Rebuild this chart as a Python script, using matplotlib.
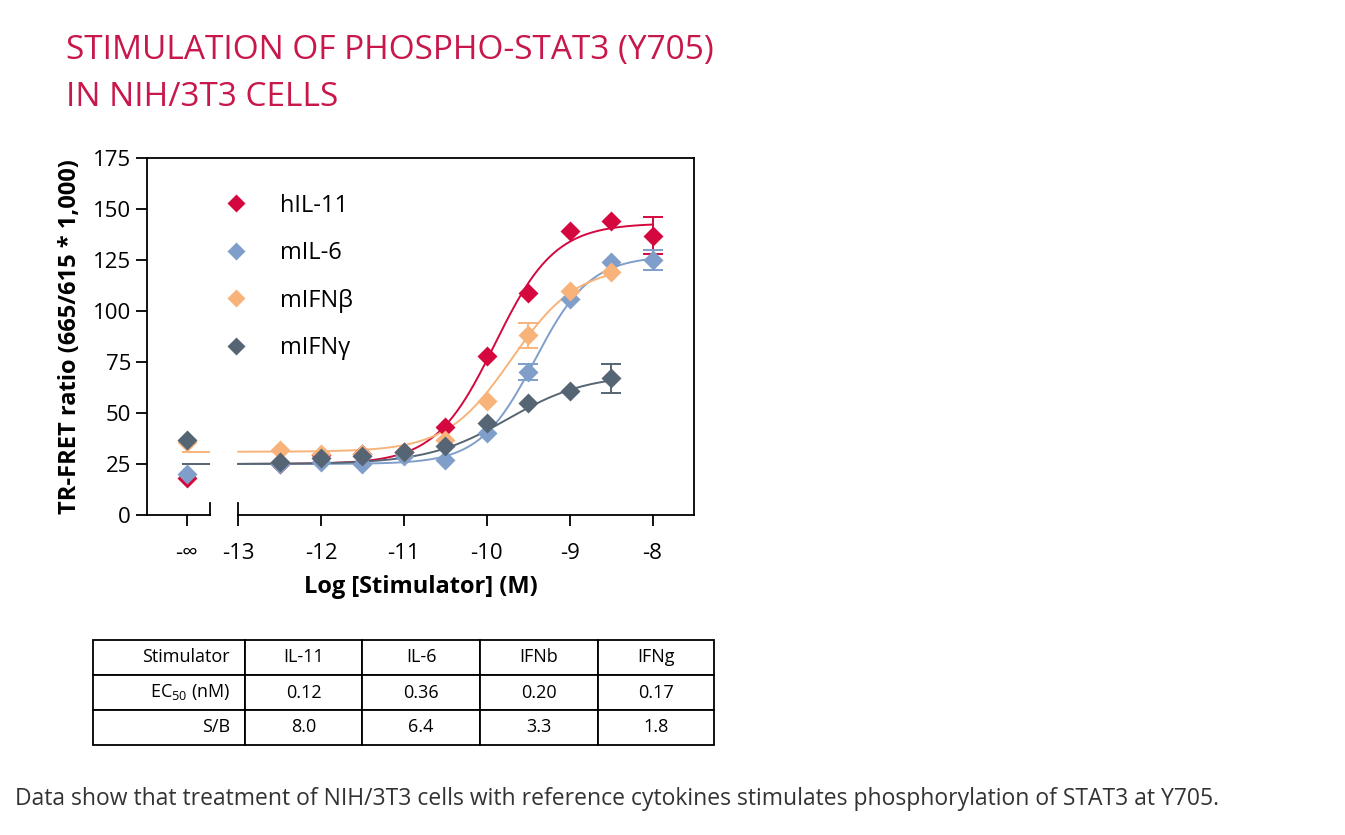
import numpy as np
import matplotlib.pyplot as plt

# measured points: x = log[M], first entry is the -inf (no stimulator) control
x_log = [-12.5, -12, -11.5, -11, -10.5, -10, -9.5, -9, -8.5, -8]
hil11 = [25, 29.5, 30, 31, 43, 78, 109, 139, 144, 137]
mil6 = [25, 26, 25, 29, 27, 40, 70, 106, 124, 125]
mifnb = [32, 30, 30, 31, 37, 56, 88, 110, 119]
mifng = [26, 28, 29, 31, 34, 45, 55, 61, 67]
ctrl = [18, 20, 36, 37]
err = {'hIL-11': {-8: 9}, 'mIL-6': {-9.5: 4, -8: 5}, 'mIFNβ': {-9.5: 6}, 'mIFNγ': {-8.5: 7}}
# 4PL fit params: bottom, top, logEC50, hill
fits = [(25, 143, -9.9, 1.2), (25, 127, -9.42, 1.3), (31, 122, -9.7, 1.1), (25, 69, -9.75, 0.9)]
names = ['hIL-11', 'mIL-6', 'mIFNβ', 'mIFNγ']
colors = ['#d4083f', '#7f9ec9', '#f8b37a', '#566573']

table_rows = [['Stimulator', 'IL-11', 'IL-6', 'IFNb', 'IFNg'],
              ['EC$_{50}$ (nM)', '0.12', '0.36', '0.20', '0.17'],
              ['S/B', '8.0', '6.4', '3.3', '1.8']]

plt.rcParams['font.family'] = ['Open Sans', 'DejaVu Sans']
plt.rcParams['mathtext.fontset'] = 'custom'
plt.rcParams['mathtext.rm'] = 'Open Sans'
fig = plt.figure(figsize=(13.45, 8.35), dpi=100)
ax = fig.add_axes([147/1345, 1-515/835, 547/1345, 357/835])

xneg = -13.62
series = [hil11, mil6, mifnb, mifng]
xx = np.linspace(-13, -8, 300)
for i, (nm, ys, c, (b, t, e, h)) in enumerate(zip(names, series, colors, fits)):
    xs = x_log[:len(ys)]
    xend = xs[-1]
    xf = xx[xx <= xend]
    ax.plot(xf, b + (t - b) / (1 + 10 ** ((e - xf) * h)), color=c, lw=1.4, zorder=2)
    ax.plot([xneg - 0.04, xneg + 0.27], [b, b], color=c, lw=1.4, zorder=2)
    ax.plot(xs, ys, 'D', color=c, ms=10.5, mec='none', label=nm, zorder=3)
    ax.plot([xneg], [ctrl[i]], 'D', color=c, ms=10.5, mec='none', zorder=3)
    for xe, ev in err[nm].items():
        yv = ys[xs.index(xe)]
        ax.errorbar([xe], [yv], yerr=ev, color=c, capsize=7, lw=1.4, capthick=1.4, zorder=2)

ax.set_xlim(-14.1, -7.5)
ax.set_ylim(0, 175)
ax.set_yticks(range(0, 176, 25))
ax.set_xticks([xneg, -13, -12, -11, -10, -9, -8])
ax.set_xticklabels(['-∞', '-13', '-12', '-11', '-10', '-9', '-8'], fontsize=16)
ax.tick_params(axis='y', labelsize=16, length=8, width=1.3)
ax.tick_params(axis='x', length=8, width=1.3, pad=12)
for s in ax.spines.values():
    s.set_linewidth(1.3)
ax.spines['bottom'].set_visible(False)
ax.plot([-14.1, -13.34], [0, 0], color='black', lw=1.3, clip_on=False)
ax.plot([-13, -7.5], [0, 0], color='black', lw=1.3, clip_on=False)
ax.plot([-13.34, -13.34], [0, 6], color='black', lw=1.3, clip_on=False)
ax.plot([-13, -13], [0, 6], color='black', lw=1.3, clip_on=False)
ax.set_xlabel('Log [Stimulator] (M)', fontsize=17, fontweight='bold', labelpad=8)
ax.set_ylabel('TR-FRET ratio (665/615 * 1,000)', fontsize=17, fontweight='bold', labelpad=8)
ax.legend(loc='upper left', bbox_to_anchor=(0.08, 0.96), frameon=False, fontsize=17,
          handletextpad=0.9, labelspacing=1.0, markerscale=0.9)

fig.text(66/1345, 1-50/835, 'STIMULATION OF PHOSPHO-STAT3 (Y705)', color='#c8174a', fontsize=24, va='center')
fig.text(66/1345, 1-97/835, 'IN NIH/3T3 CELLS', color='#c8174a', fontsize=24, va='center')

tax = fig.add_axes([93/1345, 1-745/835, 621/1345, 105/835])
tax.axis('off')
tb = tax.table(cellText=table_rows, bbox=[0, 0, 1, 1], cellLoc='center',
               colWidths=[152, 117, 118, 118, 116])
tb.auto_set_font_size(False)
for (r, c), cell in tb.get_celld().items():
    cell.set_linewidth(1.3)
    cell.get_text().set_fontsize(13)
    if c == 0:
        cell.get_text().set_ha('right')
        cell._loc = 'right'

fig.text(15/1345, 1-799/835, 'Data show that treatment of NIH/3T3 cells with reference cytokines stimulates phosphorylation of STAT3 at Y705.',
         fontsize=16.5, color='#333333', va='center')
fig.savefig('out.png')
